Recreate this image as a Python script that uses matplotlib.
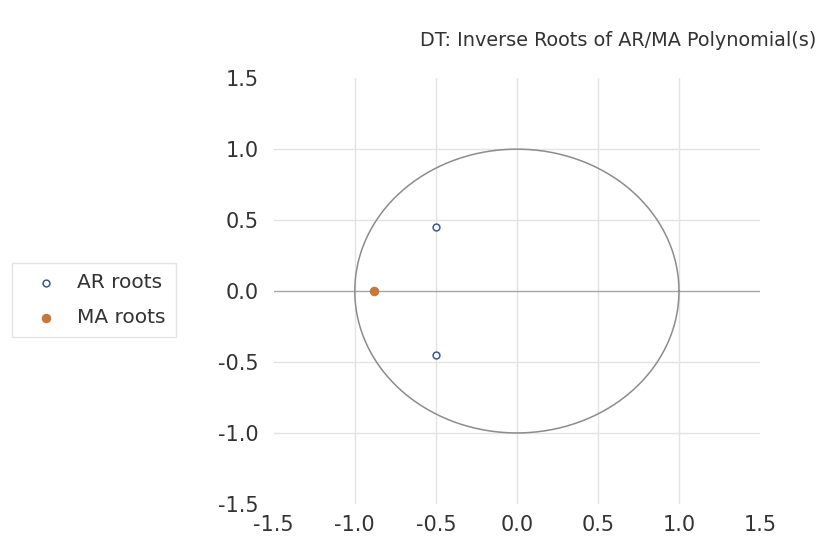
import numpy as np
import matplotlib.pyplot as plt

plt.rcParams['font.family'] = ['DejaVu Sans']

# Inverse roots (real, imaginary)
ar_real = [-0.5, -0.5]
ar_imag = [0.45, -0.45]
ma_real = [-0.88]
ma_imag = [0.0]

ticks = [-1.5, -1.0, -0.5, 0.0, 0.5, 1.0, 1.5]
grid_lines = [-1.0, -0.5, 0.5, 1.0]

fig = plt.figure(figsize=(8.27, 5.43), dpi=100)
ax = fig.add_axes([0.331, 0.072, 0.588, 0.784])

# Light grid and darker zero line
for g in grid_lines:
    ax.axhline(g, color='#e3e3e3', lw=1, zorder=0)
    ax.axvline(g, color='#e3e3e3', lw=1, zorder=0)
ax.axvline(0.0, color='#e3e3e3', lw=1, zorder=0)
ax.axhline(0.0, color='#a6a6a6', lw=1, zorder=1)

# Unit circle
theta = np.linspace(0, 2 * np.pi, 400)
ax.plot(np.cos(theta), np.sin(theta), color='#8c8c8c', lw=1.1, zorder=2)

ax.scatter(ar_real, ar_imag, s=24, facecolors='white', edgecolors='#3d5a80',
           linewidths=1.1, zorder=3, label='AR roots')
ax.scatter(ma_real, ma_imag, s=34, color='#c5783a', zorder=3, label='MA roots')

ax.set_xlim(-1.5, 1.5)
ax.set_ylim(-1.5, 1.5)
ax.set_xticks(ticks)
ax.set_yticks(ticks)
ax.set_xticklabels([f'{t:.1f}' for t in ticks])
ax.set_yticklabels([f'{t:.1f}' for t in ticks])
ax.tick_params(length=0, labelsize=15, colors='#333333')
ax.tick_params(axis='y', pad=11)
ax.tick_params(axis='x', pad=8)
for s in ax.spines.values():
    s.set_visible(False)

fig.text(0.508, 0.925, 'DT: Inverse Roots of AR/MA Polynomial(s)',
         fontsize=13.9, color='#333333', ha='left', va='center')

fig.legend(loc='upper left', bbox_to_anchor=(0.014, 0.516), borderaxespad=0,
           frameon=True, fancybox=False, edgecolor='#dddddd', fontsize=14.5,
           labelspacing=0.8, handlelength=2.4, handletextpad=0.35,
           borderpad=0.5, markerscale=1.0, labelcolor='#333333')

fig.savefig('out.png', dpi=100)
